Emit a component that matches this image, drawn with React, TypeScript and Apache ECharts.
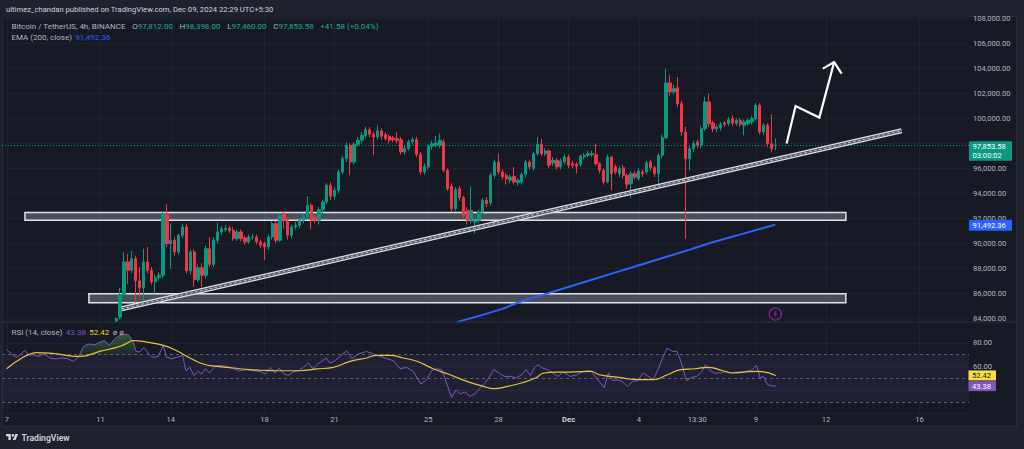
import { useEffect, useRef } from "react";
import * as echarts from "echarts";

const FONT = "Roboto, 'Noto Sans', sans-serif";
const UP = "#089981";
const DOWN = "#f23645";
const TXT = "#b2b5be";
const GRID = "#1f2330";

// x runs in 4h bars counted from Nov 7
const X_MIN = -1.282;
const X_MAX = 246.67;
const X_TICKS = [0, 24, 42, 66, 84, 108, 126, 144, 162, 177, 192, 210, 234];
const X_LABELS = ["7", "11", "14", "18", "21", "25", "28", "Dec", "4", "13:30", "9", "12", "16"];

const FIRST_BAR = 28;
// open, close, low, high
const CANDLES: number[][] = [
  [83760, 83970, 83650, 84100], [84100, 85920, 83900, 86450], [85920, 88510, 85800, 89300], [88510, 87840, 86770, 89170],
  [87840, 88770, 87600, 89390], [88770, 86990, 85170, 89000], [86990, 86450, 85710, 88100], [86450, 88510, 85440, 89570],
  [88510, 87840, 87600, 89710], [87840, 86910, 86700, 88100], [86910, 87250, 85970, 87500], [87250, 87440, 87000, 87700],
  [87440, 92370, 87200, 92510], [92370, 89970, 89700, 93120], [89970, 90240, 88000, 91570], [90240, 89310, 89000, 90500],
  [89310, 90640, 89100, 90770], [90640, 91310, 90400, 91570], [91310, 87790, 87600, 91570], [87790, 89310, 87500, 89500],
  [89310, 87090, 86510, 89500], [87090, 88050, 86900, 88300], [88050, 87440, 86500, 88400], [87440, 89570, 87200, 89800],
  [89570, 88320, 88100, 90510], [88320, 90240, 88100, 90500], [90240, 90910, 90000, 91650], [90910, 91170, 90700, 91400],
  [91090, 91200, 90900, 91450], [91200, 91000, 90800, 91400], [91040, 90370, 90200, 91300], [90370, 90910, 90200, 91100],
  [90910, 90370, 90150, 91100], [90430, 90110, 89900, 90600], [90110, 90500, 89950, 90700], [90500, 90510, 90300, 90750],
  [90510, 90110, 89900, 90700], [90110, 89840, 89600, 90300], [89970, 89710, 88640, 90150], [89710, 90510, 89500, 90700],
  [90510, 91570, 90300, 91800], [91570, 90240, 90000, 91800], [90240, 92200, 90100, 92400], [92320, 91840, 91170, 92500],
  [91840, 90640, 90300, 92000], [90640, 91310, 90400, 91500], [91310, 91440, 91100, 91700], [91440, 91840, 91200, 92000],
  [91840, 92100, 91600, 92300], [92100, 93040, 91900, 93760], [93040, 91840, 91120, 93200], [92100, 91840, 91600, 92300],
  [91840, 92690, 91500, 92900], [92690, 93310, 92400, 93500], [93310, 94640, 93100, 94800], [94640, 93760, 93440, 94900],
  [93760, 94240, 93500, 94500], [94240, 95710, 94000, 95900], [95710, 96770, 95500, 97000], [96770, 97840, 96500, 98100],
  [97840, 96510, 95440, 98000], [96510, 97920, 96300, 98100], [97920, 98240, 97700, 98500], [98240, 98640, 98000, 98900],
  [98640, 99090, 98400, 99310], [99090, 98720, 98500, 99300], [98720, 98510, 97040, 98900], [98510, 98990, 98300, 99440],
  [98990, 98560, 98300, 99200], [98690, 98370, 98200, 98900], [98560, 98240, 98000, 98700], [98430, 98290, 98100, 98600],
  [98370, 98240, 98000, 98900], [98290, 97310, 97100, 98500], [97310, 97570, 97100, 97800], [97570, 98110, 97400, 98300],
  [98110, 98290, 97900, 98500], [98290, 97120, 96900, 98500], [97120, 95710, 95500, 97300], [95710, 96160, 95500, 96400],
  [96110, 97760, 95900, 97900], [97760, 97970, 97500, 98200], [97870, 98030, 97700, 98600], [97840, 98240, 97600, 98770],
  [98110, 95840, 95700, 98300], [95840, 94370, 94200, 96000], [94560, 92770, 92500, 94800], [92770, 94290, 92600, 94500],
  [94370, 93650, 93400, 94600], [93650, 92240, 92000, 93800], [92640, 91840, 91500, 92900], [91840, 92640, 91600, 94560],
  [91700, 91850, 90770, 92000], [91840, 92510, 91600, 92700], [92510, 93440, 92300, 93600], [93440, 93170, 92900, 93700],
  [93230, 95440, 93000, 95600], [95440, 96510, 95200, 96700], [96510, 95710, 95500, 97170], [95710, 95310, 95100, 95900],
  [95440, 95170, 94700, 95600], [95040, 95310, 94800, 95500], [95360, 94910, 94700, 96110], [94850, 95040, 94600, 95200],
  [94910, 95520, 94700, 95700], [95520, 96510, 95300, 96700], [96510, 96110, 95900, 96700], [96000, 97170, 95800, 97300],
  [97170, 97920, 97000, 98510], [97920, 97170, 97000, 98370], [97170, 97390, 97000, 97600], [97390, 96240, 96000, 97500],
  [96430, 96640, 96200, 96900], [96640, 96110, 95900, 96800], [96110, 96590, 95900, 96800], [96510, 96910, 96300, 97100],
  [96910, 96240, 96000, 97100], [96370, 96240, 96000, 96600], [96320, 96160, 95570, 96500], [96320, 96960, 96100, 97100],
  [96910, 97040, 96700, 97200], [97040, 97170, 96900, 97400], [97100, 97170, 96900, 97400], [97090, 96370, 96200, 97970],
  [96370, 95840, 95600, 96500], [95840, 94910, 94700, 96000], [94910, 96910, 94800, 97100], [96910, 95570, 94240, 97000],
  [96110, 95710, 95500, 96300], [95570, 95970, 95300, 96200], [96050, 95440, 95200, 96300], [95440, 94720, 94370, 95600],
  [94770, 95570, 93600, 95800], [95570, 95310, 95100, 95800], [95170, 95790, 95000, 96000], [95710, 95570, 95300, 95900],
  [95710, 96430, 95500, 96600], [96510, 96050, 95800, 96700], [96050, 95570, 95300, 96200], [95570, 97040, 94500, 97200],
  [97040, 98450, 96800, 98700], [98450, 102830, 98300, 103970], [102830, 102110, 101800, 103440], [102110, 102370, 101900, 102700],
  [102450, 101170, 100900, 103310], [101170, 98910, 98600, 101400], [98910, 96770, 90370, 99310], [96770, 97570, 95840, 97800],
  [97570, 97970, 97300, 98200], [98110, 97840, 97600, 98300], [97840, 99170, 97600, 99400], [99170, 101310, 99000, 101710],
  [101310, 99570, 99300, 101970], [99620, 99170, 98900, 99800], [99170, 99310, 98900, 99500], [99250, 99520, 99000, 99700],
  [99620, 99520, 99300, 99800], [99570, 99890, 99400, 100100], [99970, 99620, 99400, 100240], [99570, 99840, 99400, 100000],
  [99840, 99520, 99300, 100000], [99440, 99710, 98640, 99900], [99570, 99840, 99400, 100000], [99710, 99970, 99500, 100200],
  [99970, 101040, 99800, 101230], [101040, 98910, 98700, 101200], [98910, 99440, 98700, 99600], [99440, 97970, 97700, 99600],
  [97970, 97570, 97300, 100320], [97812, 97853.58, 97460, 98398],
];

const EMA200 = [
  [115.4, 83704], [126.4, 84696], [131.5, 85304], [139.2, 86056], [149.5, 87040], [162.3, 88270],
  [175.1, 89496], [180.3, 90024], [188.8, 90776], [197, 91492.36],
];
const TREND = [[29.4, 84760], [229.4, 99000]];
// x from, x to, price low, price high
const ZONES = [
  [4.6, 215.1, 91840, 92460],
  [21.0, 215.1, 85250, 85970],
];
const ARROW = [[199.9, 97976], [202.2, 100984], [208.3, 100056], [212.1, 104504]];
const ARROW_HEAD = [[209.2, 103976], [212.1, 104504], [214.0, 103576]];
const EVENT = [[197, 84344]];

const RSI = [
  [-0.1, 74.2], [1.2, 70.6], [2.5, 67.7], [3.5, 70.6], [4.6, 73.7], [5.7, 69.4], [6.7, 70], [8, 68.6], [9.5, 70.6],
  [11, 67.2], [12.5, 66.4], [14, 67.2], [15.5, 66.6], [17, 64.4], [18.3, 67.7], [19.6, 77], [20.8, 79], [22.6, 78.5],
  [23.8, 80.7], [25.1, 81.9], [26.2, 77.9], [27.7, 83.6], [29.4, 87.5], [31.1, 87], [32.2, 81.9], [33.1, 72.8],
  [34.1, 72.3], [35.1, 76.2], [36.2, 71.4], [37.3, 67.7], [38.8, 68.6], [40.1, 77.9], [40.9, 67.7], [42.2, 66.6],
  [43.5, 67.7], [45, 69.4], [45.9, 56.4], [46.9, 59.3], [47.9, 52.5], [49.1, 55.9], [49.9, 53.6], [50.8, 58.1],
  [51.9, 54.5], [53.3, 60.1], [54.6, 61], [56.3, 60.1], [58, 58.1], [59.7, 56.4], [61.5, 57.3], [63.2, 56.4],
  [64.9, 55.9], [66.2, 53.6], [67.6, 59.3], [68.7, 54.5], [69.8, 58.7], [71, 53.6], [72.1, 52.5], [73.4, 55.3],
  [74.7, 56.4], [76, 59.3], [77.3, 62.9], [78.4, 58.1], [79.4, 61.5], [80.7, 64.4], [81.8, 67.2], [82.8, 62.9],
  [84.1, 64.9], [85.4, 68.6], [87.1, 73.4], [88.4, 66.6], [90.1, 70.6], [92.2, 72.8], [93.9, 70.6], [95.6, 68.6],
  [97.4, 66.6], [99.1, 64.9], [100.8, 58.1], [102.5, 59.3], [104.2, 55.9], [106.1, 45.1], [107.6, 48.8], [108.9, 56.4],
  [110.2, 58.1], [111.5, 57.3], [112.7, 46], [114, 33.8], [115.1, 40.3], [116.2, 36.7], [117.4, 38.4], [118.7, 34.7],
  [120, 36.7], [121.3, 41.8], [122.6, 46], [123.5, 50.2], [124.8, 57.3], [126.2, 54.5], [127.5, 51.6], [129.3, 51.6],
  [130.6, 50.2], [131.9, 53], [133.1, 57.3], [134.2, 52.5], [135.3, 59.3], [136.2, 61.5], [137.3, 58.7], [138.6, 57.3],
  [139.9, 54.5], [141.3, 51.6], [142.6, 55.3], [144.4, 51.6], [146.2, 53], [147.9, 55.9], [149.7, 56.4], [151.1, 50.2],
  [152.2, 46], [153.1, 41.8], [154.2, 54.5], [155.3, 48], [156.4, 48.8], [157.7, 47.4], [159.1, 43.2], [160.4, 47.4],
  [161.7, 48], [163.1, 54.5], [164.4, 51.6], [165.7, 48.8], [167.1, 58.7], [168.2, 67.7], [169.3, 75.6], [170.6, 72.8],
  [171.8, 72.8], [172.8, 64.4], [174.2, 48], [175.5, 50.8], [176.9, 51.6], [178.2, 55.9], [179.1, 61.5], [180, 57.3],
  [181.3, 54.5], [183.1, 54.5], [184.4, 55.9], [185.7, 54.5], [187.1, 55.3], [188.4, 55.3], [189.7, 55.9], [191.1, 57.3],
  [192.2, 61], [193.1, 50.2], [194, 51.6], [195, 44.6], [196, 43.7], [197.1, 43.38],
];
const RSI_MA = [
  [-0.1, 58.1], [2.5, 64.4], [5.1, 69.4], [7.6, 71.7], [11, 71.4], [15.3, 69.4], [18.7, 68.6], [23.8, 72.8],
  [28.1, 76.2], [30.3, 79], [32.4, 81.9], [35.8, 80.7], [40.1, 77.9], [43.5, 73.4], [46.9, 67.2], [50.3, 62.1],
  [53.8, 60.1], [58, 58.7], [62.3, 57.3], [66.6, 56.7], [70.9, 56.4], [75.1, 56.4], [79.4, 57.9], [83.7, 59.3],
  [88, 64.4], [92.2, 67.2], [94.8, 69.4], [98.2, 69.4], [101.6, 67.2], [105.1, 64.4], [109.3, 58.1], [113.6, 53],
  [117.9, 47.4], [122.1, 43.2], [124.8, 41.2], [128.4, 43.2], [131.9, 46], [135.5, 50.2], [137.7, 54.5], [140.9, 55.3],
  [144.4, 55.3], [149.7, 55.9], [151.9, 53], [156.8, 50.8], [162.2, 48.8], [165.7, 48.8], [169.3, 53], [172.8, 57.3],
  [176.4, 58.1], [180, 59.3], [183.5, 56.4], [186.2, 54.5], [188.9, 55.3], [192.4, 55.9], [197.1, 52.42],
];
const RSI_LEVELS = [70, 50, 30];

const fmt = (n: number) => n.toLocaleString("en-US", { minimumFractionDigits: 2, maximumFractionDigits: 2 });

export default function App() {
  const ref = useRef<HTMLDivElement>(null);

  useEffect(() => {
    if (!ref.current) return;
    const chart = echarts.init(ref.current, undefined, { renderer: "svg" });

    const candleData = CANDLES.map((c, i) => [FIRST_BAR + i, c[0], c[1], c[2], c[3]]);
    const last = CANDLES[CANDLES.length - 1];
    const emaLast = EMA200[EMA200.length - 1][1];
    const rsiLast = RSI[RSI.length - 1][1];
    const maLast = RSI_MA[RSI_MA.length - 1][1];
    const overbought = RSI.filter((p) => p[0] >= 18.3 && p[0] <= 34.1).map((p) => [p[0], Math.max(p[1], 70)]);
    const vLines = X_TICKS.map((v) => ({ xAxis: v, lineStyle: { color: GRID, width: 1, type: "solid" } }));
    const axisText = { color: TXT, fontSize: 7.6, fontFamily: FONT };
    const plain = { axisLine: { show: false }, axisTick: { show: false } };

    chart.setOption({
      animation: false,
      backgroundColor: "transparent",
      textStyle: { fontFamily: FONT },
      grid: [
        { left: 2, right: 55, top: 16, height: 302.3 },
        { left: 2, right: 55, top: 322, height: 91.7 },
      ],
      xAxis: [
        { type: "value", gridIndex: 0, min: X_MIN, max: X_MAX, ...plain, splitLine: { show: false }, axisLabel: { show: false } },
        {
          type: "value", gridIndex: 1, min: X_MIN, max: X_MAX, ...plain, splitLine: { show: false },
          axisLabel: {
            ...axisText, margin: 2, customValues: X_TICKS,
            formatter: (v: number) => {
              const s = X_LABELS[X_TICKS.indexOf(v)] ?? "";
              return s === "Dec" ? "{b|Dec}" : s;
            },
            rich: { b: { fontWeight: "bold", color: "#d1d4dc", fontSize: 7.6, fontFamily: FONT } },
          },
        },
      ],
      yAxis: [
        {
          type: "value", gridIndex: 0, position: "right", min: 84000, max: 108184, interval: 2000,
          ...plain, splitLine: { lineStyle: { color: GRID } },
          // labels hidden behind the last-price tag stay hidden
          axisLabel: { ...axisText, margin: 4, showMaxLabel: false, formatter: (v: number) => (Math.abs(v - last[1]) < 400 ? "" : fmt(v)) },
        },
        {
          type: "value", gridIndex: 1, position: "right", min: 20, max: 97.7, interval: 20,
          ...plain, splitLine: { lineStyle: { color: GRID } },
          axisLabel: { ...axisText, margin: 4, showMaxLabel: false, showMinLabel: false, formatter: (v: number) => (Math.abs(v - rsiLast) < 5 ? "" : fmt(v)) },
        },
      ],
      series: [
        {
          type: "line", xAxisIndex: 0, yAxisIndex: 0, data: [], z: 1,
          markLine: {
            silent: true, symbol: ["none", "none"], label: { show: false }, z: 1,
            data: [...vLines, { yAxis: last[1], lineStyle: { color: UP, width: 1, type: [1, 2] } }],
          },
        },
        {
          type: "line", xAxisIndex: 0, yAxisIndex: 0, data: [], z: 2,
          markArea: {
            silent: true, z: 2,
            itemStyle: { color: "rgba(120,123,134,0.55)", borderColor: "#e0e3eb", borderWidth: 1.5 },
            data: ZONES.map((z) => [{ xAxis: z[0], yAxis: z[3] }, { xAxis: z[1], yAxis: z[2] }]),
          },
        },
        {
          type: "candlestick", xAxisIndex: 0, yAxisIndex: 0, data: candleData, clip: false, z: 3,
          encode: { x: 0, y: [1, 2, 3, 4] }, barWidth: 2.8,
          itemStyle: { color: UP, color0: DOWN, borderColor: UP, borderColor0: DOWN, borderWidth: 1 },
        },
        { type: "line", xAxisIndex: 0, yAxisIndex: 0, data: EMA200, smooth: true, showSymbol: false, clip: false, lineStyle: { color: "#2962ff", width: 2 }, z: 3 },
        { type: "line", xAxisIndex: 0, yAxisIndex: 0, data: TREND, showSymbol: false, lineStyle: { color: "#e0e3eb", width: 5 }, z: 4 },
        { type: "line", xAxisIndex: 0, yAxisIndex: 0, data: TREND, showSymbol: false, lineStyle: { color: "#50535e", width: 2.6 }, z: 4 },
        { type: "line", xAxisIndex: 0, yAxisIndex: 0, data: TREND, showSymbol: false, lineStyle: { color: "#e0e3eb", width: 0.8, type: [3, 2] }, z: 4 },
        { type: "line", xAxisIndex: 0, yAxisIndex: 0, data: ARROW, showSymbol: false, lineStyle: { color: "#ffffff", width: 2.2, join: "miter" }, z: 5 },
        { type: "line", xAxisIndex: 0, yAxisIndex: 0, data: ARROW_HEAD, showSymbol: false, lineStyle: { color: "#ffffff", width: 2.2 }, z: 5 },
        {
          type: "scatter", xAxisIndex: 0, yAxisIndex: 0, data: EVENT, symbol: "circle", symbolSize: 12, z: 5,
          itemStyle: { color: "transparent", borderColor: "#9c27b0", borderWidth: 1.3 },
        },
        {
          type: "scatter", xAxisIndex: 0, yAxisIndex: 0, data: EVENT, z: 5,
          symbol: "path://M7 0 L2 7 H5.5 L4 12 L10 5 H6.5 L8 0 Z", symbolSize: [4.5, 7], itemStyle: { color: "#9c27b0" },
        },
        // RSI pane
        {
          type: "line", xAxisIndex: 1, yAxisIndex: 1, data: [], z: 1,
          markArea: { silent: true, z: 1, itemStyle: { color: "rgba(126,87,194,0.1)" }, data: [[{ yAxis: 70 }, { yAxis: 30 }]] },
          markLine: {
            silent: true, symbol: ["none", "none"], label: { show: false }, z: 1,
            data: [...vLines, ...RSI_LEVELS.map((v) => ({ yAxis: v, lineStyle: { color: "#5d606b", width: 1, type: [3, 3] } }))],
          },
        },
        {
          type: "line", xAxisIndex: 1, yAxisIndex: 1, data: overbought, showSymbol: false, lineStyle: { width: 0 },
          areaStyle: {
            origin: 70,
            color: new echarts.graphic.LinearGradient(0, 0, 0, 1, [
              { offset: 0, color: "rgba(76,175,80,0.6)" },
              { offset: 1, color: "rgba(76,175,80,0.15)" },
            ]),
          },
        },
        { type: "line", xAxisIndex: 1, yAxisIndex: 1, data: RSI, showSymbol: false, lineStyle: { color: "#7e57c2", width: 1 }, z: 3 },
        { type: "line", xAxisIndex: 1, yAxisIndex: 1, data: RSI_MA, smooth: true, showSymbol: false, lineStyle: { color: "#e8c33a", width: 1.2 }, z: 3 },
      ],
    });

    echarts.graphic.registerShape(
      "tvlogo",
      echarts.graphic.extendPath("M14 22H7V11H0V4h14v18zM28 22h-8l7.5-18h8L28 22zM24 8a4 4 0 1 1-8 0a4 4 0 1 1 8 0z", {}),
    );

    const py = chart.convertToPixel({ yAxisIndex: 0 }, last[1]) as number;
    const pe = chart.convertToPixel({ yAxisIndex: 0 }, emaLast) as number;
    const pr = chart.convertToPixel({ yAxisIndex: 1 }, rsiLast) as number;
    const pm = chart.convertToPixel({ yAxisIndex: 1 }, maLast) as number;
    const tagText = (x: number, y: number, text: string, fill: string, extra = {}) => ({
      type: "text", x, y, z: 101,
      style: { text, fill, fontSize: 7.6, fontFamily: FONT, verticalAlign: "middle", ...extra },
    });
    const box = (x: number, y: number, w: number, h: number, fill: string) => ({
      type: "rect", z: 100, shape: { x, y, width: w, height: h }, style: { fill },
    });
    const chg = last[1] - last[0];
    const pct = (chg / last[0]) * 100;
    const fs = 8;
    const legendRich = {
      n: { fill: TXT, fontSize: fs, fontFamily: FONT },
      g: { fill: "#22ab94", fontSize: fs, fontFamily: FONT },
      b: { fill: "#2962ff", fontSize: fs, fontFamily: FONT },
      p: { fill: "#7e57c2", fontSize: fs, fontFamily: FONT },
      y: { fill: "#f7d51d", fontSize: fs, fontFamily: FONT },
    };

    chart.setOption({
      graphic: [
        tagText(6, 9.5, "ultimez_chandan published on TradingView.com, Dec 09, 2024 22:29 UTC+5:30", "#d1d4dc", { fontSize: 7.65 }),
        {
          type: "text", x: 11.5, y: 26, z: 101,
          style: {
            text: `{n|Bitcoin / TetherUS, 4h, BINANCE}  {n|O}{g|${fmt(last[0])}}  {n|H}{g|${fmt(last[3])}}  {n|L}{g|${fmt(last[2])}}  {n|C}{g|${fmt(last[1])}}  {g|+${fmt(chg)} (+${pct.toFixed(2)}%)}`,
            rich: legendRich, verticalAlign: "middle",
          },
        },
        {
          type: "text", x: 11.5, y: 37.3, z: 101,
          style: { text: `{n|EMA (200, close)} {b|${fmt(emaLast)}}`, rich: legendRich, verticalAlign: "middle" },
        },
        {
          type: "text", x: 11.5, y: 332.3, z: 101,
          style: { text: `{n|RSI (14, close)} {p|${fmt(rsiLast)}} {y|${fmt(maLast)}} {n|ø ø}`, rich: legendRich, verticalAlign: "middle" },
        },
        { type: "line", z: 90, shape: { x1: 2, y1: 322, x2: 1017, y2: 322 }, style: { stroke: "#2a2e39", lineWidth: 1 } },
        box(969, py - 4, 43, 19.5, UP),
        tagText(972.5, py + 1.5, fmt(last[1]), "#ffffff"),
        tagText(972.5, py + 10, "03:00:02", "#ffffff"),
        box(969, pe - 5, 43, 11, "#2962ff"),
        tagText(972.5, pe + 0.5, fmt(emaLast), "#ffffff"),
        box(968.5, pm - 5, 27.5, 10, "#f7e03b"),
        tagText(972, pm, fmt(maLast), "#131722"),
        box(968.5, pr - 5, 27.5, 10, "#7e57c2"),
        tagText(972, pr, fmt(rsiLast), "#ffffff"),
        { type: "tvlogo", x: 6, y: 432.6, scaleX: 0.34, scaleY: 0.34, z: 101, style: { fill: "#d1d4dc" } },
        tagText(21.5, 437.8, "TradingView", "#d1d4dc", { fontSize: 8.6, fontWeight: 600 }),
      ],
    });

    return () => chart.dispose();
  }, []);

  return (
    <div style={{ position: "fixed", left: 0, top: 0, width: 1024, height: 449, background: "#1e222d" }}>
      <div style={{ position: "absolute", left: 2, top: 16, width: 1015, height: 411, boxSizing: "border-box", background: "#161a25", border: "1px solid #2a2e39" }} />
      <div ref={ref} style={{ position: "absolute", left: 0, top: 0, width: 1024, height: 449 }} />
    </div>
  );
}
